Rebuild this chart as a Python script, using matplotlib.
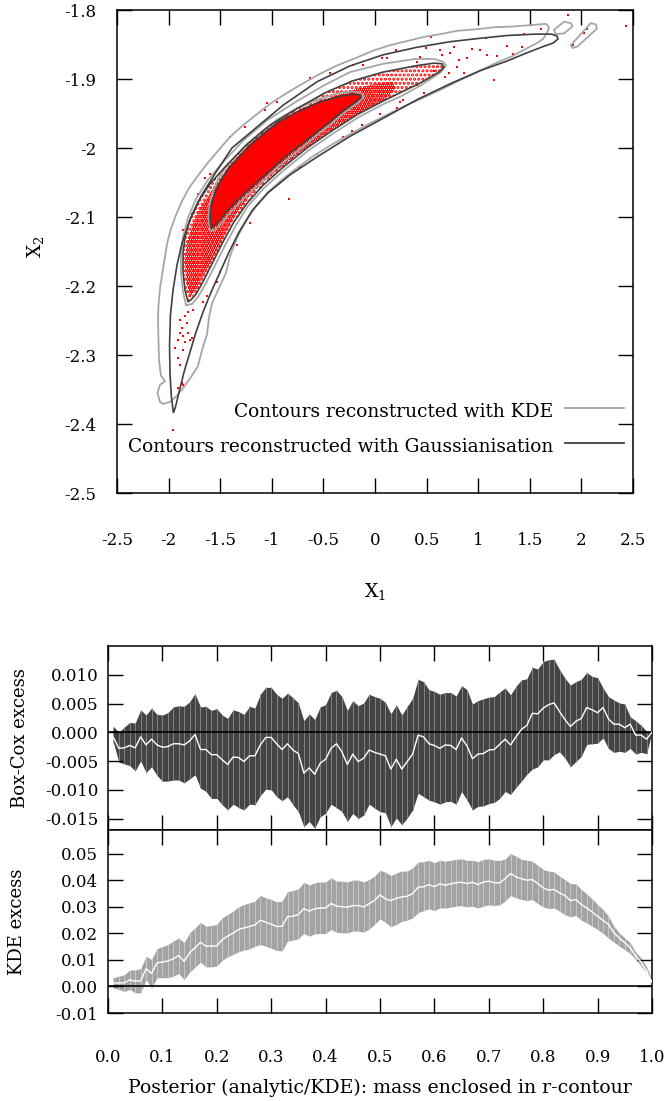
import numpy as np
import matplotlib
matplotlib.use("Agg")
import matplotlib.pyplot as plt

plt.rcParams['font.family'] = ['DejaVu Serif']
plt.rcParams['mathtext.fontset'] = 'dejavuserif'
plt.rcParams['axes.unicode_minus'] = False
plt.rcParams['hatch.linewidth'] = 1.5
plt.rcParams['hatch.color'] = 'red'

# ---------------- top panel: contours (data coordinates) ----------------
gauss_outer_x = [-1.953, -1.972, -1.986, -1.991, -1.982, -1.957, -1.919, -1.870, -1.793, -1.686,
                 -1.541, -1.386, -1.163, -0.891, -0.562, -0.242, 0.078, 0.407, 0.727, 1.017,
                 1.279, 1.550, 1.715, 1.764, 1.773, 1.725, 1.647, 1.473, 1.279, 1.017,
                 0.727, 0.407, 0.078, -0.242, -0.562, -0.824, -1.037, -1.192, -1.318, -1.415,
                 -1.502, -1.589, -1.667, -1.735, -1.793, -1.851, -1.899, -1.933]
gauss_outer_y = [-2.384, -2.362, -2.329, -2.286, -2.242, -2.206, -2.170, -2.138, -2.104, -2.070,
                 -2.035, -2.000, -1.972, -1.938, -1.904, -1.881, -1.865, -1.854, -1.846, -1.841,
                 -1.837, -1.835, -1.835, -1.838, -1.842, -1.848, -1.852, -1.862, -1.874, -1.888,
                 -1.907, -1.930, -1.957, -1.983, -2.013, -2.039, -2.065, -2.091, -2.122, -2.151,
                 -2.180, -2.209, -2.238, -2.267, -2.296, -2.325, -2.354, -2.375]

gauss_mid_x = [-1.812, -1.841, -1.860, -1.860, -1.841, -1.793, -1.715, -1.599, -1.444, -1.250,
               -1.017, -0.746, -0.484, -0.223, 0.078, 0.388, 0.572, 0.649, 0.669, 0.620,
               0.436, 0.242, 0.078, -0.165, -0.407, -0.659, -0.891, -1.085, -1.240, -1.366,
               -1.473, -1.570, -1.657, -1.735, -1.783]
gauss_mid_y = [-2.223, -2.206, -2.180, -2.152, -2.129, -2.104, -2.078, -2.052, -2.026, -1.996,
               -1.967, -1.942, -1.920, -1.903, -1.890, -1.881, -1.877, -1.878, -1.883, -1.890,
               -1.906, -1.920, -1.932, -1.951, -1.974, -2.000, -2.028, -2.054, -2.080, -2.107,
               -2.136, -2.165, -2.191, -2.212, -2.220]

gauss_in_x = [-1.589, -1.599, -1.589, -1.550, -1.492, -1.415, -1.318, -1.211, -1.085, -0.930,
              -0.756, -0.533, -0.339, -0.223, -0.155, -0.136, -0.184, -0.310, -0.436, -0.572,
              -0.698, -0.824, -0.940, -1.056, -1.163, -1.260, -1.347, -1.444, -1.512, -1.560]
gauss_in_y = [-2.116, -2.101, -2.084, -2.065, -2.046, -2.029, -2.013, -1.996, -1.980, -1.962,
              -1.948, -1.933, -1.925, -1.922, -1.923, -1.927, -1.933, -1.946, -1.962, -1.978,
              -1.993, -2.007, -2.022, -2.038, -2.052, -2.065, -2.078, -2.093, -2.106, -2.113]

kde_outer_x = [-2.083, -2.108, -2.083, -2.035, -2.074, -2.093, -2.098, -2.103, -2.098, -2.083,
               -2.059, -2.035, -2.011, -1.977, -1.928, -1.870, -1.802, -1.725, -1.628, -1.521,
               -1.405, -1.279, -1.153, -1.017, -0.872, -0.727, -0.552, -0.378, -0.194, -0.019,
               0.145, 0.310, 0.475, 0.630, 0.804, 0.979, 1.153, 1.328, 1.502, 1.657,
               1.686, 1.667, 1.628, 1.570, 1.453, 1.328, 1.153, 0.979, 0.804, 0.630,
               0.455, 0.291, 0.116, -0.058, -0.242, -0.407, -0.581, -0.756, -0.901, -1.037,
               -1.153, -1.250, -1.337, -1.405, -1.444, -1.512, -1.579, -1.609, -1.628, -1.676,
               -1.715, -1.783, -1.851, -1.919, -1.986, -2.054]
kde_outer_y = [-2.368, -2.355, -2.343, -2.338, -2.330, -2.307, -2.278, -2.249, -2.228, -2.203,
               -2.180, -2.157, -2.136, -2.117, -2.097, -2.077, -2.058, -2.042, -2.023, -2.004,
               -1.984, -1.967, -1.952, -1.936, -1.922, -1.909, -1.894, -1.881, -1.870, -1.859,
               -1.851, -1.845, -1.839, -1.835, -1.830, -1.828, -1.825, -1.824, -1.822, -1.820,
               -1.825, -1.833, -1.842, -1.848, -1.857, -1.867, -1.878, -1.891, -1.903, -1.916,
               -1.928, -1.939, -1.952, -1.965, -1.980, -1.994, -2.010, -2.029, -2.046, -2.064,
               -2.084, -2.106, -2.130, -2.157, -2.181, -2.203, -2.225, -2.246, -2.270, -2.293,
               -2.316, -2.332, -2.346, -2.359, -2.368, -2.371]

kde_island1_x = [1.734, 1.831, 1.897, 1.913, 1.831, 1.751]
kde_island1_y = [-1.829, -1.817, -1.819, -1.824, -1.834, -1.835]
kde_island2_x = [1.897, 2.091, 2.141, 2.150, 1.962, 1.913]
kde_island2_y = [-1.851, -1.819, -1.821, -1.827, -1.853, -1.855]

kde_mid_x = [-1.831, -1.860, -1.880, -1.880, -1.860, -1.812, -1.735, -1.618, -1.463, -1.269,
             -1.037, -0.766, -0.504, -0.242, 0.078, 0.388, 0.572, 0.659, 0.688, 0.640,
             0.446, 0.252, 0.087, -0.155, -0.397, -0.649, -0.882, -1.076, -1.231, -1.347,
             -1.453, -1.550, -1.638, -1.715, -1.773]
kde_mid_y = [-2.228, -2.209, -2.181, -2.154, -2.128, -2.101, -2.074, -2.046, -2.019, -1.988,
             -1.959, -1.933, -1.910, -1.890, -1.878, -1.871, -1.871, -1.875, -1.880, -1.890,
             -1.909, -1.925, -1.936, -1.955, -1.978, -2.004, -2.032, -2.058, -2.084, -2.112,
             -2.141, -2.170, -2.196, -2.216, -2.226]

kde_in_x = [-1.599, -1.613, -1.604, -1.570, -1.512, -1.434, -1.337, -1.231, -1.105, -0.950,
            -0.766, -0.543, -0.339, -0.213, -0.136, -0.107, -0.155, -0.291, -0.426, -0.562,
            -0.688, -0.814, -0.930, -1.047, -1.153, -1.250, -1.337, -1.424, -1.502, -1.560]
kde_in_y = [-2.120, -2.101, -2.083, -2.062, -2.043, -2.026, -2.010, -1.993, -1.977, -1.959,
            -1.943, -1.929, -1.920, -1.918, -1.920, -1.925, -1.933, -1.948, -1.965, -1.981,
            -1.997, -2.012, -2.026, -2.042, -2.057, -2.070, -2.083, -2.097, -2.112, -2.119]

# dense part of the red sample cloud (outline)
dense_x = [-1.793, -1.831, -1.841, -1.822, -1.773, -1.696, -1.579, -1.424, -1.231, -0.998,
           -0.746, -0.484, -0.223, 0.000, 0.165, 0.204, 0.097, -0.097, -0.291, -0.514,
           -0.727, -0.921, -1.095, -1.231, -1.347, -1.444, -1.541, -1.638, -1.725]
dense_y = [-2.216, -2.191, -2.162, -2.138, -2.113, -2.087, -2.061, -2.035, -2.007, -1.974,
           -1.949, -1.930, -1.916, -1.907, -1.904, -1.913, -1.930, -1.945, -1.962, -1.983,
           -2.006, -2.029, -2.051, -2.072, -2.096, -2.122, -2.151, -2.177, -2.203]

# isolated samples outside the dense cloud
pts_x = [1.874, 2.432, 1.606, 2.059, 2.025, 1.919, 1.444, 1.080, 0.546, 0.497,
         0.205, 0.114, 1.281, 1.427, 1.339, 1.151, 1.022, 1.087, 1.184, 0.941,
         0.892, 0.763, 0.731, 0.811, 0.633, 0.649, 0.795, 0.860, 0.714, 0.682,
         0.568, 0.406, 0.471, 0.244, 0.212, 0.049, -0.129, -0.226, -0.112, -0.209,
         0.066, 0.407, 0.439, -1.890, -1.841, -1.809, -1.873, -1.890, -1.858, -1.906,
         -1.793, -1.841, -1.938, -1.858, -1.906, -1.890, -1.873, -1.858, -1.906, -1.896,
         -1.761, -1.825, -1.809, -1.776, -1.954, -1.631, -1.664, -1.534, -1.502, -1.340,
         -0.831, -1.146, -1.211, -1.049, -0.953, -0.630, -0.436, -1.260, -1.066, -1.470,
         -1.647, -1.599, -1.712, -1.776, -1.858, -0.307, -0.565, -0.727, 0.274, 0.080,
         -1.405]
pts_y = [-1.807, -1.823, -1.828, -1.828, -1.834, -1.851, -1.835, -1.840, -1.839, -1.855,
         -1.858, -1.869, -1.852, -1.854, -1.864, -1.902, -1.858, -1.865, -1.866, -1.856,
         -1.870, -1.853, -1.863, -1.872, -1.858, -1.865, -1.882, -1.892, -1.892, -1.897,
         -1.889, -1.909, -1.921, -1.933, -1.942, -1.950, -1.967, -1.976, -1.880, -1.879,
         -1.870, -1.875, -1.868, -2.249, -2.244, -2.237, -2.261, -2.268, -2.273, -2.278,
         -2.278, -2.281, -2.290, -2.293, -2.305, -2.314, -2.341, -2.343, -2.348, -2.355,
         -2.235, -2.254, -2.268, -2.276, -2.409, -2.215, -2.223, -2.194, -2.179, -2.141,
         -2.074, -2.083, -2.109, -1.935, -1.933, -1.899, -1.892, -1.969, -1.945, -2.020,
         -2.044, -2.037, -2.066, -2.095, -2.119, -1.984, -2.008, -2.027, -1.930, -1.955,
         -1.984]

top_xticks = [-2.5, -2.0, -1.5, -1.0, -0.5, 0.0, 0.5, 1.0, 1.5, 2.0, 2.5]
top_xlabels = ['-2.5', '-2', '-1.5', '-1', '-0.5', '0', '0.5', '1', '1.5', '2', '2.5']
top_yticks = [-2.5, -2.4, -2.3, -2.2, -2.1, -2.0, -1.9, -1.8]
top_ylabels = ['-2.5', '-2.4', '-2.3', '-2.2', '-2.1', '-2', '-1.9', '-1.8']
legend_labels = ['Contours reconstructed with KDE', 'Contours reconstructed with Gaussianisation']

# ---------------- bottom panels: excess vs enclosed mass ----------------
mass = [0.01, 0.02, 0.03, 0.04, 0.05, 0.06, 0.07, 0.08, 0.09, 0.10,
        0.11, 0.12, 0.13, 0.14, 0.15, 0.16, 0.17, 0.18, 0.19, 0.20,
        0.21, 0.22, 0.23, 0.24, 0.25, 0.26, 0.27, 0.28, 0.29, 0.30,
        0.31, 0.32, 0.33, 0.34, 0.35, 0.36, 0.37, 0.38, 0.39, 0.40,
        0.41, 0.42, 0.43, 0.44, 0.45, 0.46, 0.47, 0.48, 0.49, 0.50,
        0.51, 0.52, 0.53, 0.54, 0.55, 0.56, 0.57, 0.58, 0.59, 0.60,
        0.61, 0.62, 0.63, 0.64, 0.65, 0.66, 0.67, 0.68, 0.69, 0.70,
        0.71, 0.72, 0.73, 0.74, 0.75, 0.76, 0.77, 0.78, 0.79, 0.80,
        0.81, 0.82, 0.83, 0.84, 0.85, 0.86, 0.87, 0.88, 0.89, 0.90,
        0.91, 0.92, 0.93, 0.94, 0.95, 0.96, 0.97, 0.98, 0.99, 1.00]

bc_mid = [-0.0009, -0.0028, -0.0027, -0.0023, -0.0027, -0.0008, -0.0022, -0.0012, -0.0022, -0.0026,
          -0.0025, -0.0020, -0.0020, -0.0022, -0.0015, -0.0004, -0.0030, -0.0030, -0.0039, -0.0039,
          -0.0048, -0.0056, -0.0043, -0.0044, -0.0051, -0.0041, -0.0041, -0.0022, -0.0009, -0.0009,
          -0.0020, -0.0030, -0.0020, -0.0031, -0.0037, -0.0071, -0.0062, -0.0073, -0.0054, -0.0047,
          -0.0028, -0.0020, -0.0034, -0.0056, -0.0038, -0.0051, -0.0045, -0.0031, -0.0035, -0.0038,
          -0.0041, -0.0064, -0.0047, -0.0064, -0.0051, -0.0038, -0.0005, -0.0008, -0.0020, -0.0023,
          -0.0028, -0.0022, -0.0023, -0.0030, -0.0010, -0.0024, -0.0046, -0.0038, -0.0037, -0.0031,
          -0.0030, -0.0021, -0.0012, -0.0022, -0.0008, 0.0005, 0.0012, 0.0033, 0.0032, 0.0042,
          0.0048, 0.0051, 0.0036, 0.0022, 0.0010, 0.0019, 0.0024, 0.0043, 0.0039, 0.0034,
          0.0043, 0.0023, 0.0014, 0.0014, 0.0008, 0.0014, -0.0005, -0.0005, -0.0012, 0.0000]
bc_hi = [0.0010, 0.0000, 0.0009, 0.0017, 0.0016, 0.0039, 0.0030, 0.0042, 0.0031, 0.0030,
         0.0034, 0.0044, 0.0046, 0.0045, 0.0053, 0.0067, 0.0044, 0.0045, 0.0038, 0.0041,
         0.0030, 0.0024, 0.0039, 0.0036, 0.0031, 0.0045, 0.0042, 0.0066, 0.0078, 0.0078,
         0.0066, 0.0059, 0.0068, 0.0060, 0.0051, 0.0020, 0.0032, 0.0022, 0.0044, 0.0048,
         0.0069, 0.0073, 0.0062, 0.0038, 0.0055, 0.0046, 0.0051, 0.0066, 0.0062, 0.0059,
         0.0052, 0.0032, 0.0048, 0.0030, 0.0045, 0.0059, 0.0092, 0.0088, 0.0074, 0.0071,
         0.0066, 0.0069, 0.0069, 0.0063, 0.0081, 0.0074, 0.0049, 0.0055, 0.0058, 0.0061,
         0.0062, 0.0070, 0.0077, 0.0065, 0.0080, 0.0091, 0.0093, 0.0113, 0.0110, 0.0123,
         0.0126, 0.0127, 0.0109, 0.0094, 0.0082, 0.0088, 0.0092, 0.0104, 0.0097, 0.0095,
         0.0077, 0.0062, 0.0056, 0.0051, 0.0049, 0.0027, 0.0020, 0.0012, 0.0002, 0.0000]
bc_lo = [-0.0018, -0.0052, -0.0055, -0.0058, -0.0067, -0.0050, -0.0070, -0.0060, -0.0075, -0.0085,
         -0.0085, -0.0083, -0.0083, -0.0088, -0.0081, -0.0074, -0.0097, -0.0103, -0.0115, -0.0115,
         -0.0126, -0.0135, -0.0125, -0.0131, -0.0135, -0.0125, -0.0126, -0.0110, -0.0099, -0.0100,
         -0.0112, -0.0119, -0.0112, -0.0126, -0.0138, -0.0164, -0.0155, -0.0167, -0.0147, -0.0141,
         -0.0125, -0.0131, -0.0138, -0.0155, -0.0141, -0.0150, -0.0144, -0.0125, -0.0132, -0.0138,
         -0.0140, -0.0164, -0.0149, -0.0161, -0.0149, -0.0135, -0.0106, -0.0112, -0.0118, -0.0121,
         -0.0125, -0.0121, -0.0120, -0.0125, -0.0103, -0.0118, -0.0135, -0.0129, -0.0128, -0.0124,
         -0.0122, -0.0115, -0.0103, -0.0108, -0.0096, -0.0085, -0.0073, -0.0064, -0.0060, -0.0048,
         -0.0048, -0.0039, -0.0034, -0.0045, -0.0060, -0.0051, -0.0042, -0.0021, -0.0020, -0.0019,
         -0.0010, -0.0028, -0.0035, -0.0033, -0.0035, -0.0028, -0.0038, -0.0035, -0.0037, 0.0000]

kde_mid = [0.0013, 0.0013, 0.0014, 0.0025, 0.0020, 0.0021, 0.0067, 0.0049, 0.0089, 0.0092,
           0.0096, 0.0104, 0.0117, 0.0094, 0.0127, 0.0146, 0.0167, 0.0152, 0.0152, 0.0153,
           0.0177, 0.0190, 0.0201, 0.0215, 0.0221, 0.0226, 0.0232, 0.0250, 0.0242, 0.0235,
           0.0226, 0.0227, 0.0263, 0.0265, 0.0271, 0.0294, 0.0284, 0.0293, 0.0296, 0.0296,
           0.0313, 0.0303, 0.0301, 0.0299, 0.0305, 0.0305, 0.0300, 0.0312, 0.0325, 0.0345,
           0.0330, 0.0324, 0.0332, 0.0338, 0.0340, 0.0350, 0.0374, 0.0376, 0.0384, 0.0376,
           0.0387, 0.0382, 0.0387, 0.0391, 0.0393, 0.0388, 0.0393, 0.0384, 0.0394, 0.0397,
           0.0391, 0.0391, 0.0406, 0.0426, 0.0413, 0.0406, 0.0401, 0.0403, 0.0388, 0.0372,
           0.0363, 0.0366, 0.0353, 0.0343, 0.0324, 0.0328, 0.0309, 0.0296, 0.0281, 0.0265,
           0.0249, 0.0234, 0.0202, 0.0183, 0.0165, 0.0146, 0.0114, 0.0092, 0.0058, 0.0016]
kde_hi = [0.0033, 0.0039, 0.0044, 0.0062, 0.0062, 0.0067, 0.0114, 0.0102, 0.0143, 0.0150,
          0.0158, 0.0171, 0.0183, 0.0165, 0.0202, 0.0221, 0.0242, 0.0227, 0.0230, 0.0234,
          0.0259, 0.0271, 0.0284, 0.0300, 0.0309, 0.0315, 0.0322, 0.0343, 0.0334, 0.0328,
          0.0319, 0.0322, 0.0357, 0.0362, 0.0368, 0.0393, 0.0382, 0.0391, 0.0394, 0.0394,
          0.0410, 0.0397, 0.0397, 0.0394, 0.0401, 0.0401, 0.0394, 0.0403, 0.0416, 0.0438,
          0.0431, 0.0418, 0.0428, 0.0435, 0.0435, 0.0447, 0.0469, 0.0470, 0.0476, 0.0466,
          0.0476, 0.0472, 0.0476, 0.0479, 0.0481, 0.0475, 0.0476, 0.0470, 0.0479, 0.0481,
          0.0476, 0.0475, 0.0481, 0.0501, 0.0491, 0.0479, 0.0476, 0.0472, 0.0457, 0.0441,
          0.0435, 0.0432, 0.0416, 0.0403, 0.0388, 0.0387, 0.0366, 0.0349, 0.0330, 0.0309,
          0.0290, 0.0265, 0.0227, 0.0202, 0.0183, 0.0165, 0.0129, 0.0108, 0.0074, 0.0026]
kde_lo = [-0.0006, -0.0011, -0.0019, -0.0011, -0.0024, -0.0024, 0.0026, -0.0005, 0.0033, 0.0033,
          0.0033, 0.0039, 0.0049, 0.0026, 0.0054, 0.0073, 0.0092, 0.0074, 0.0074, 0.0077,
          0.0099, 0.0112, 0.0121, 0.0131, 0.0137, 0.0142, 0.0152, 0.0158, 0.0152, 0.0144,
          0.0136, 0.0134, 0.0171, 0.0175, 0.0180, 0.0200, 0.0190, 0.0198, 0.0200, 0.0200,
          0.0215, 0.0205, 0.0202, 0.0202, 0.0209, 0.0209, 0.0205, 0.0217, 0.0234, 0.0255,
          0.0242, 0.0225, 0.0234, 0.0246, 0.0250, 0.0259, 0.0278, 0.0286, 0.0293, 0.0286,
          0.0296, 0.0296, 0.0299, 0.0303, 0.0305, 0.0300, 0.0303, 0.0296, 0.0303, 0.0308,
          0.0305, 0.0308, 0.0322, 0.0343, 0.0334, 0.0328, 0.0324, 0.0328, 0.0313, 0.0300,
          0.0294, 0.0296, 0.0284, 0.0271, 0.0263, 0.0268, 0.0250, 0.0240, 0.0227, 0.0215,
          0.0200, 0.0183, 0.0167, 0.0152, 0.0139, 0.0124, 0.0102, 0.0077, 0.0052, 0.0011]

mass_ticks = [0.0, 0.1, 0.2, 0.3, 0.4, 0.5, 0.6, 0.7, 0.8, 0.9, 1.0]
mass_labels = ['0.0', '0.1', '0.2', '0.3', '0.4', '0.5', '0.6', '0.7', '0.8', '0.9', '1.0']
bc_ticks = [-0.015, -0.010, -0.005, 0.000, 0.005, 0.010]
bc_labels = ['-0.015', '-0.010', '-0.005', '0.000', '0.005', '0.010']
kde_ticks = [-0.01, 0.00, 0.01, 0.02, 0.03, 0.04, 0.05]
kde_labels = ['-0.01', '0.00', '0.01', '0.02', '0.03', '0.04', '0.05']

DARK = '#404040'
LIGHT = '#a6a6a6'
FS = 12

W, H = 669, 1101
fig = plt.figure(figsize=(W / 100, H / 100), dpi=100)

# ---------------- top panel ----------------
ax1 = fig.add_axes([117 / W, 1 - 493 / H, 516 / W, 483 / H])
ax1.fill(gauss_mid_x, gauss_mid_y, facecolor='none', edgecolor='red', hatch='....', linewidth=0, zorder=1)
ax1.fill(dense_x, dense_y, facecolor='none', edgecolor='red', hatch='........', linewidth=0, zorder=1.1)
ax1.fill(gauss_in_x, gauss_in_y, facecolor='red', edgecolor='red', linewidth=1.5, zorder=1.2)
ax1.scatter(pts_x, pts_y, s=4, c='red', marker='s', linewidths=0, zorder=1.3)

for cx, cy in [(kde_outer_x, kde_outer_y), (kde_island1_x, kde_island1_y),
               (kde_island2_x, kde_island2_y), (kde_mid_x, kde_mid_y), (kde_in_x, kde_in_y)]:
    ax1.fill(cx, cy, fill=False, edgecolor=LIGHT, linewidth=1.3, zorder=2)
for cx, cy in [(gauss_outer_x, gauss_outer_y), (gauss_mid_x, gauss_mid_y), (gauss_in_x, gauss_in_y)]:
    ax1.fill(cx, cy, fill=False, edgecolor=DARK, linewidth=1.2, zorder=2.1)

ax1.set_xlim(-2.5, 2.5)
ax1.set_ylim(-2.5, -1.8)
ax1.set_xticks(top_xticks, top_xlabels)
ax1.set_yticks(top_yticks, top_ylabels)
ax1.tick_params(direction='in', length=10.5, width=1.0, top=True, right=True, labelsize=FS)
ax1.tick_params(axis='x', pad=28)
ax1.tick_params(axis='y', pad=15)
for s in ax1.spines.values():
    s.set_linewidth(1.1)
ax1.set_xlabel('X$_1$', fontsize=FS + 1.5)
ax1.xaxis.set_label_coords(0.5, -0.183)
ax1.set_ylabel('X$_2$', fontsize=FS + 1.5)
ax1.yaxis.set_label_coords(-0.137, 0.51)

# legend (gnuplot style: text right-aligned, then sample line)
LFS = 13.4
ax1.text(0.845, 0.168, legend_labels[0], transform=ax1.transAxes, ha='right', va='center', fontsize=LFS)
ax1.plot([0.868, 0.983], [0.176, 0.176], transform=ax1.transAxes, color=LIGHT, lw=1.3)
ax1.text(0.845, 0.095, legend_labels[1], transform=ax1.transAxes, ha='right', va='center', fontsize=LFS)
ax1.plot([0.868, 0.983], [0.1035, 0.1035], transform=ax1.transAxes, color=DARK, lw=1.3)

# ---------------- middle panel ----------------
ax2 = fig.add_axes([108 / W, 1 - 830 / H, 544 / W, 184 / H])
ax2.fill_between(mass, bc_lo, bc_hi, color='#444444', linewidth=0, zorder=1)
ax2.vlines(mass, bc_lo, bc_hi, colors='#8c8c8c', linewidth=0.6, zorder=1.1)
ax2.axhline(0, color='black', lw=1.2, zorder=2)
ax2.plot(mass, bc_mid, color='white', lw=1.0, zorder=3)
ax2.set_xlim(0, 1)
ax2.set_ylim(-0.017, 0.015)
ax2.set_xticks(mass_ticks)
ax2.set_xticklabels([])
ax2.set_yticks(bc_ticks, bc_labels)
ax2.tick_params(direction='in', length=10.5, width=1.0, top=True, right=True, labelsize=FS)
ax2.tick_params(axis='y', pad=7)
ax2.set_ylabel('Box-Cox excess', fontsize=FS + 1)
ax2.yaxis.set_label_coords(-0.145, 0.5)

# ---------------- bottom panel ----------------
ax3 = fig.add_axes([108 / W, 1 - 1013 / H, 544 / W, 183 / H])
ax3.fill_between(mass, kde_lo, kde_hi, color='#a3a3a3', linewidth=0, zorder=1)
ax3.vlines(mass, kde_lo, kde_hi, colors='#cdcdcd', linewidth=0.6, zorder=1.1)
ax3.axhline(0, color='black', lw=1.2, zorder=2)
ax3.plot(mass, kde_mid, color='white', lw=1.0, zorder=3)
ax3.set_xlim(0, 1)
ax3.set_ylim(-0.01, 0.059)
ax3.set_xticks(mass_ticks, mass_labels)
ax3.set_yticks(kde_ticks, kde_labels)
ax3.tick_params(direction='in', length=10.5, width=1.0, top=True, right=True, labelsize=FS)
ax3.tick_params(axis='x', pad=26)
ax3.tick_params(axis='y', pad=7)
ax3.set_ylabel('KDE excess', fontsize=FS + 1)
ax3.yaxis.set_label_coords(-0.15, 0.5)
ax3.set_xlabel('Posterior (analytic/KDE): mass enclosed in r-contour', fontsize=13.6)
ax3.xaxis.set_label_coords(0.5, -0.36)

for ax in (ax2, ax3):
    for s in ax.spines.values():
        s.set_linewidth(1.1)

fig.savefig('out.png', dpi=100)
